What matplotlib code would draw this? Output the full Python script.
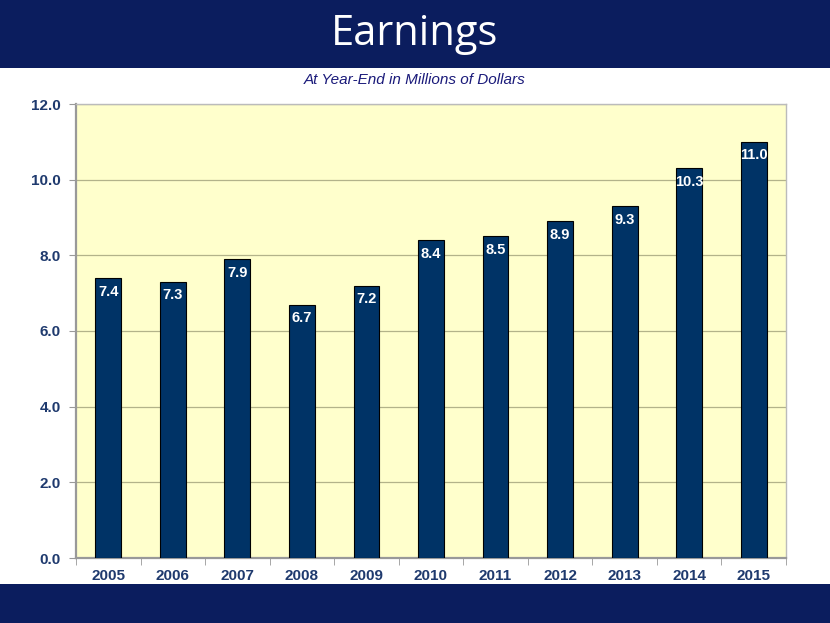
import numpy as np
import matplotlib
matplotlib.use("Agg")
import matplotlib.pyplot as plt
from matplotlib.patches import Rectangle

years = ["2005", "2006", "2007", "2008", "2009", "2010",
         "2011", "2012", "2013", "2014", "2015"]
earnings = [7.4, 7.3, 7.9, 6.7, 7.2, 8.4, 8.5, 8.9, 9.3, 10.3, 11.0]
yticks = [0.0, 2.0, 4.0, 6.0, 8.0, 10.0, 12.0]

NAVY = "#0b1d5e"
BAR = "#003366"
TXT = "#1f3a6e"

plt.rcParams["font.family"] = ["Liberation Sans", "DejaVu Sans"]

W, H = 830, 623
fig = plt.figure(figsize=(W / 100, H / 100), dpi=100)
fig.patch.set_facecolor("white")

# bandes du haut et du bas
fig.add_artist(Rectangle((0, 1 - 68 / H), 1, 68 / H, transform=fig.transFigure,
                         facecolor=NAVY, edgecolor="none", zorder=0))
fig.add_artist(Rectangle((0, 0), 1, 39 / H, transform=fig.transFigure,
                         facecolor=NAVY, edgecolor="none", zorder=0))
fig.text(0.5, 1 - 34 / H, "Earnings", ha="center", va="center",
         fontsize=30, color="white", family=["Open Sans", "DejaVu Sans"])
fig.text(0.5, 1 - 80 / H, "At Year-End in Millions of Dollars", ha="center",
         va="center", fontsize=11, style="italic", color="#1a1a7a")

ax = fig.add_axes([76 / W, 1 - 558 / H, 710 / W, 454 / H])
ax.set_facecolor("#ffffcc")
x = np.arange(len(years))
bars = ax.bar(x, earnings, width=0.4, color=BAR, edgecolor="black",
              lw=0.8, zorder=3)
for r, v in zip(bars, earnings):
    ax.text(r.get_x() + r.get_width() / 2, v - 0.36, f"{v:.1f}",
            ha="center", va="center", fontsize=10.5, fontweight="bold",
            color="white", zorder=4)

ax.set_xlim(-0.5, len(years) - 0.5)
ax.set_ylim(0, 12)
ax.set_yticks(yticks)
ax.set_yticklabels([f"{t:.1f}" for t in yticks], fontsize=11,
                   fontweight="bold", color=TXT)
ax.set_xticks(x)
ax.set_xticklabels(years, fontsize=11, fontweight="bold", color=TXT)
ax.set_xticks(np.arange(-0.5, len(years), 1), minor=True)
ax.tick_params(axis="x", which="major", length=0, pad=8)
ax.tick_params(axis="x", which="minor", length=5, color="#999999")
ax.tick_params(axis="y", length=5, color="#999999", pad=6)
ax.yaxis.grid(True, color="#b3b38a", lw=0.9, zorder=1)
for s in ["left", "bottom"]:
    ax.spines[s].set_color("#999999")
    ax.spines[s].set_linewidth(1.6)
for s in ["top", "right"]:
    ax.spines[s].set_color("#bbbbbb")
    ax.spines[s].set_linewidth(1.0)

fig.savefig("out.png", dpi=100)
